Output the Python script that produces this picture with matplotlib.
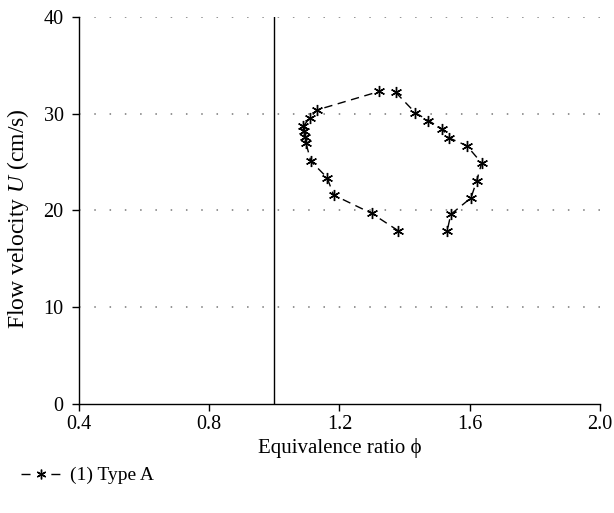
import numpy as np
import matplotlib
matplotlib.use("Agg")
import matplotlib.pyplot as plt
from matplotlib.lines import Line2D

plt.rcParams['font.family'] = ['Liberation Serif', 'DejaVu Serif']
plt.rcParams['mathtext.fontset'] = 'custom'
plt.rcParams['mathtext.rm'] = 'Liberation Serif'
plt.rcParams['mathtext.it'] = 'Liberation Serif:italic'

# lean branch (bottom -> top)
phi_lean = [1.381, 1.299, 1.182, 1.162, 1.112, 1.097, 1.094, 1.091, 1.089, 1.109, 1.132, 1.322]
u_lean = [17.9, 19.7, 21.6, 23.4, 25.1, 27.0, 27.6, 28.2, 28.7, 29.6, 30.4, 32.3]
# rich branch (top -> bottom)
phi_rich = [1.373, 1.433, 1.473, 1.516, 1.537, 1.591, 1.637, 1.621, 1.604, 1.542, 1.531]
u_rich = [32.2, 30.1, 29.3, 28.4, 27.5, 26.7, 24.9, 23.0, 21.3, 19.6, 17.9]

phi_stoich = 1.0
x_ticks = [0.4, 0.8, 1.2, 1.6, 2.0]
y_ticks = [0, 10, 20, 30, 40]

fs = 14.5

fig = plt.figure(figsize=(6.14, 5.13), dpi=100)
ax = fig.add_axes([0.1287, 0.2125, 0.977 - 0.1287, 0.9669 - 0.2125])

asterisk = (6, 2, 0)
style = dict(color='black', lw=1.0, ls=(0, (6, 4)), marker=asterisk,
             ms=8, mew=1.0, mec='black')
ax.plot(phi_lean, u_lean, **style)
ax.plot(phi_rich, u_rich, **style)

ax.plot([phi_stoich, phi_stoich], [0, 40], color='black', lw=1.0)

for yv in y_ticks[1:]:
    ax.axhline(yv, color='#777777', lw=1.1, ls=(0, (1, 9)), zorder=0)

ax.set_xlim(0.4, 2.0)
ax.set_ylim(0, 40)
ax.set_xticks(x_ticks)
ax.set_xticklabels(['0.4', '0.8', '1.2', '1.6', '2.0'])
ax.set_yticks(y_ticks)
ax.tick_params(direction='out', length=5, width=1.0, labelsize=fs)
ax.tick_params(axis='x', pad=3)
ax.tick_params(axis='y', pad=6)
for s in ['top', 'right']:
    ax.spines[s].set_visible(False)
for s in ['left', 'bottom']:
    ax.spines[s].set_linewidth(1.0)

ax.set_xlabel('Equivalence ratio ϕ', fontsize=15, labelpad=3)
ax.set_ylabel('Flow velocity $\\mathit{U}$ (cm/s)', fontsize=17)
ax.yaxis.set_label_coords(-0.092, 0.48)

# legend key: one dash each side of the asterisk
handle = Line2D([], [], color='black', lw=1.0, ls=(0, (6.5, 15)), marker=asterisk,
                ms=7, mew=1.0)
fig.legend([handle], ['(1) Type A'], loc='center left', bbox_to_anchor=(0.006, 0.073),
           frameon=False, fontsize=14, handlelength=2.0, handletextpad=0.5)

fig.savefig('out.png', dpi=100)
